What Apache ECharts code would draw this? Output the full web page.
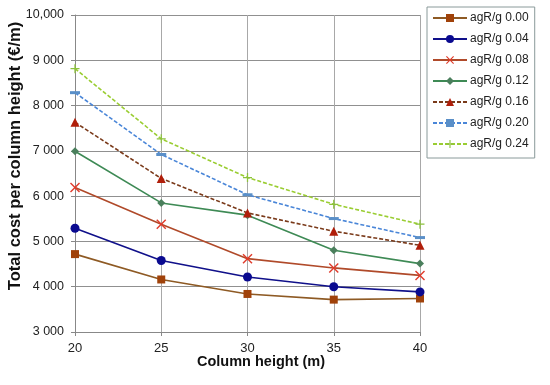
<!DOCTYPE html>
<html><head><meta charset="utf-8">
<script src="https://cdn.jsdelivr.net/npm/echarts@6/dist/echarts.min.js"></script>
<style>html,body{margin:0;padding:0;background:#fff}#c{width:550px;height:385px}</style>
</head><body><div id="c"></div>
<script>
const heights = [20, 25, 30, 35, 40];
const seriesNames = ['agR/g 0.00','agR/g 0.04','agR/g 0.08','agR/g 0.12','agR/g 0.16','agR/g 0.20','agR/g 0.24'];
const s000 = [4720, 4160, 3840, 3715, 3740];
const s004 = [5290, 4580, 4215, 4000, 3885];
const s008 = [6190, 5380, 4620, 4415, 4250];
const s012 = [6990, 5850, 5580, 4805, 4510];
const s016 = [7630, 6390, 5630, 5225, 4915];
const s020 = [8285, 6920, 6030, 5505, 5085];
const s024 = [8815, 7265, 6410, 5820, 5380];
const yTicks = [3000, 4000, 5000, 6000, 7000, 8000, 9000, 10000];
const yTickLabels = ['3 000','4 000','5 000','6 000','7 000','8 000','9 000','10,000'];

const allData = [s000, s004, s008, s012, s016, s020, s024];
const styles = [
  {line:'#8E5A24', mk:'#A0420A', sym:'rect', size:8, type:'solid'},
  {line:'#10108A', mk:'#0A0A90', sym:'circle', size:9, type:'solid'},
  {line:'#B04A2A', mk:'#E03A2A', sym:'path://M0,1L1,0L5,4L9,0L10,1L6,5L10,9L9,10L5,6L1,10L0,9L4,5Z', size:10, type:'solid'},
  {line:'#3E8A55', mk:'#4A7F5C', sym:'diamond', size:8, type:'solid'},
  {line:'#7A3A1A', mk:'#B01E0A', sym:'triangle', size:9, type:[4,2]},
  {line:'#4A86D8', mk:'#5A8FC8', sym:'rect', size:[10,3], type:[4,2]},
  {line:'#9ACD32', mk:'#8CC23C', sym:'path://M4.3,0H5.7V4.3H10V5.7H5.7V10H4.3V5.7H0V4.3H4.3Z', size:9, type:[4,2]}
];
const series = seriesNames.map((n,i)=>({
  name:n, type:'line',
  data: heights.map((h,j)=>[h, allData[i][j]]),
  symbol: styles[i].sym, symbolSize: styles[i].size,
  showAllSymbol:true,
  lineStyle:{color:styles[i].line, width:1.6, type:styles[i].type},
  itemStyle:{color:styles[i].mk, borderWidth:0},
  emphasis:{disabled:true},
  animation:false
}));

const chart = echarts.init(document.getElementById('c'), null, {renderer:'canvas'});
chart.setOption({
  animation:false,
  textStyle:{fontFamily:'Liberation Sans, Arial, sans-serif'},
  grid:{left:75, right:130, top:15, bottom:53},
  xAxis:{type:'value', min:20, max:40, interval:5,
    axisLine:{lineStyle:{color:'#888'}},
    axisTick:{show:true, length:4, lineStyle:{color:'#888'}},
    axisLabel:{color:'#222', fontSize:13, margin:10},
    splitLine:{show:true, lineStyle:{color:'#a8a8a8', width:1}}
  },
  yAxis:{type:'value', min:3000, max:10000, interval:1000,
    axisLine:{show:true, lineStyle:{color:'#888'}},
    axisTick:{show:true, length:4, lineStyle:{color:'#888'}},
    axisLabel:{color:'#222', fontSize:12.5, margin:11,
      formatter:v=>{const k=yTicks.indexOf(v); return k>=0?yTickLabels[k]:'';}},
    splitLine:{show:true, lineStyle:{color:'#909090', width:1}}
  },
  legend:{
    orient:'vertical', left:427, top:7, width:106,
    data:seriesNames,
    itemWidth:34, itemHeight:10, itemGap:9,
    padding:[5,6,8,5],
    borderColor:'#8a9a9a', borderWidth:1,
    textStyle:{fontSize:12, color:'#222', padding:[0,0,0,-2]},
    selectedMode:false
  },
  graphic:[
    {type:'text', x:0, y:0, style:{text:'Column height (m)', font:'bold 14.5px Liberation Sans, Arial, sans-serif', fill:'#111', x:261, y:362, align:'center', verticalAlign:'middle'}},
    {type:'text', rotation:Math.PI/2, x:15, y:156, style:{text:'Total cost per column height (€/m)', font:'bold 16.5px Liberation Sans, Arial, sans-serif', fill:'#111', align:'center', verticalAlign:'middle'}}
  ],
  series: series
});
</script></body></html>
